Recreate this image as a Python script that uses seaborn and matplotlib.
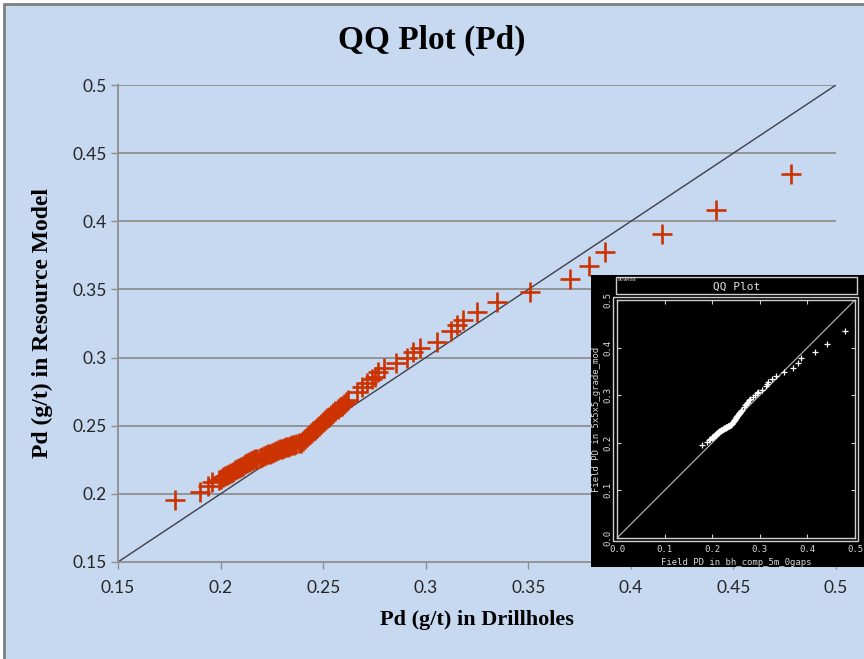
import matplotlib
matplotlib.use("Agg")
import matplotlib.pyplot as plt
from matplotlib.patches import Rectangle
import seaborn as sns
import pandas as pd

# Quantile pairs: Pd grade in drillholes (x) versus resource model (y), g/t
drillholes = [
    0.178, 0.190, 0.194, 0.196, 0.199,
    0.200, 0.201, 0.202, 0.203, 0.204, 0.205, 0.206, 0.207, 0.208, 0.209,
    0.210, 0.211, 0.212, 0.213, 0.214, 0.215, 0.216, 0.217, 0.218, 0.219,
    0.220, 0.221, 0.222, 0.223, 0.224, 0.225, 0.226, 0.227, 0.228, 0.229,
    0.230, 0.231, 0.232, 0.233, 0.234, 0.235, 0.236, 0.237, 0.238, 0.239,
    0.240, 0.241, 0.242, 0.243, 0.244, 0.245, 0.246, 0.247, 0.248, 0.249,
    0.250, 0.251, 0.252, 0.253, 0.254, 0.255, 0.256, 0.257, 0.258, 0.259,
    0.260, 0.261, 0.262,
    0.2665, 0.2689, 0.2714, 0.2738, 0.2753, 0.2767, 0.2797, 0.2855, 0.2909,
    0.2938, 0.2972, 0.3055, 0.3123, 0.3153, 0.3182, 0.3250, 0.3348, 0.3508,
    0.3703, 0.3796, 0.3874, 0.4152, 0.4415, 0.4781,
]
resource_model = [
    0.1955, 0.2014, 0.2058, 0.2087, 0.2102,
    0.2112, 0.2121, 0.2130, 0.2138, 0.2147, 0.2156, 0.2164, 0.2173, 0.2182, 0.2190,
    0.2199, 0.2208, 0.2216, 0.2225, 0.2234, 0.2241, 0.2247, 0.2253, 0.2259, 0.2265,
    0.2271, 0.2277, 0.2283, 0.2290, 0.2296, 0.2302, 0.2308, 0.2314, 0.2320, 0.2326,
    0.2332, 0.2338, 0.2342, 0.2347, 0.2352, 0.2356, 0.2361, 0.2365, 0.2370, 0.2376,
    0.2390, 0.2403, 0.2417, 0.2430, 0.2444, 0.2458, 0.2471, 0.2485, 0.2498, 0.2512,
    0.2526, 0.2540, 0.2553, 0.2567, 0.2580, 0.2594, 0.2608, 0.2621, 0.2635, 0.2648,
    0.2662, 0.2676, 0.2690,
    0.2747, 0.2784, 0.2813, 0.2843, 0.2857, 0.2894, 0.2923, 0.2960, 0.2997,
    0.3041, 0.3070, 0.3114, 0.3195, 0.3239, 0.3276, 0.3334, 0.3408, 0.3481,
    0.3577, 0.3672, 0.3775, 0.3907, 0.4083, 0.4347,
]
main_ticks = [0.15, 0.2, 0.25, 0.3, 0.35, 0.4, 0.45, 0.5]
main_tick_labels = ["0.15", "0.2", "0.25", "0.3", "0.35", "0.4", "0.45", "0.5"]
inset_ticks = [0.0, 0.1, 0.2, 0.3, 0.4, 0.5]
inset_tick_labels = ["0.0", "0.1", "0.2", "0.3", "0.4", "0.5"]

df = pd.DataFrame({"drill": drillholes, "model": resource_model})

BG = "#c6d9f1"
RED = "#cc3300"
GRID = "#8e8e8e"

sns.set_theme(style="white")
plt.rcParams["font.family"] = ["Lato", "DejaVu Sans"]

fig = plt.figure(figsize=(8.64, 6.59), dpi=100)
fig.patch.set_facecolor("white")
# chart-area panel with a grey frame, kept behind the axes
fig.patches.append(Rectangle((4 / 864, -0.05), 1.2, 1 - 4 / 659 + 0.05,
                             transform=fig.transFigure, facecolor=BG,
                             edgecolor="#7f7f7f", linewidth=2, zorder=-10))

ax = fig.add_axes([118 / 864, 1 - 562 / 659, 718 / 864, 477 / 659], zorder=1)
ax.set_facecolor(BG)
lo, hi = main_ticks[0], main_ticks[-1]
ax.set_xlim(lo, hi)
ax.set_ylim(lo, hi)

# horizontal gridlines
for t in main_ticks[1:]:
    ax.axhline(t, color=GRID, linewidth=1.3, zorder=1)

# y = x reference line
ax.plot([lo, hi], [lo, hi], color="#3f3f4a", linewidth=1.0, zorder=2)

sns.scatterplot(data=df, x="drill", y="model", ax=ax, marker="+", s=190,
                color=RED, linewidth=1.9, zorder=3)

ax.set_xticks(main_ticks)
ax.set_xticklabels(main_tick_labels)
ax.set_yticks(main_ticks)
ax.set_yticklabels(main_tick_labels)
ax.tick_params(axis="both", labelsize=12.5, colors="#8e8e8e", labelcolor="#262626",
               length=5, width=1, direction="out", bottom=True, left=True)
ax.tick_params(axis="x", pad=8)
ax.tick_params(axis="y", pad=3)
for side in ["top", "right"]:
    ax.spines[side].set_visible(False)
for side in ["left", "bottom"]:
    ax.spines[side].set_color(GRID)
    ax.spines[side].set_linewidth(1.3)

ax.set_xlabel("Pd (g/t) in Drillholes", family="Liberation Serif",
              fontweight="bold", fontsize=16, labelpad=10, color="black")
ax.set_ylabel("Pd (g/t) in Resource Model", family="Liberation Serif",
              fontweight="bold", fontsize=17, labelpad=14, color="black")
fig.text(0.5, 1 - 40 / 659, "QQ Plot (Pd)", family="Liberation Serif",
         fontweight="bold", fontsize=24, ha="center", va="center", color="black")

# ---- inset: the same QQ plot as rendered by the mining package ----
ins_bg = fig.add_axes([591 / 864, 1 - 567 / 659, 273 / 864, 292 / 659], zorder=5)
ins_bg.set_facecolor("black")
ins_bg.set_xticks([])
ins_bg.set_yticks([])
for s in ins_bg.spines.values():
    s.set_visible(False)

LG = "#cfcfcf"
MONO = "DejaVu Sans Mono"

# header box
fig.patches.append(Rectangle((616 / 864, 1 - 294 / 659), 241 / 864, 17 / 659,
                             transform=fig.transFigure, facecolor="black",
                             edgecolor=LG, linewidth=1.0, zorder=6))
fig.text(737 / 864, 1 - 286.5 / 659, "QQ Plot", family=MONO, fontsize=8,
         color="#e0e0e0", ha="center", va="center", zorder=7)
fig.text(618 / 864, 1 - 280 / 659, "DATAMINE", family=MONO, fontsize=2.8,
         color="#e0e0e0", ha="left", va="center", zorder=7)

# outer frame of the plotting box
fig.patches.append(Rectangle((613 / 864, 1 - 541 / 659), 245 / 864, 244 / 659,
                             transform=fig.transFigure, facecolor="none",
                             edgecolor=LG, linewidth=1.0, zorder=6))

ins = fig.add_axes([617 / 864, 1 - 538 / 659, 238 / 864, 238 / 659], zorder=7)
ins.set_facecolor("black")
ins.set_xlim(inset_ticks[0], inset_ticks[-1])
ins.set_ylim(inset_ticks[0], inset_ticks[-1])
ins.plot([inset_ticks[0], inset_ticks[-1]], [inset_ticks[0], inset_ticks[-1]],
         color="#bdbdbd", linewidth=0.8)
sns.scatterplot(data=df, x="drill", y="model", ax=ins, marker="+", s=16,
                color="white", linewidth=0.9, zorder=3)
ins.set_xticks(inset_ticks)
ins.set_xticklabels(inset_tick_labels)
ins.set_yticks(inset_ticks)
ins.set_yticklabels(inset_tick_labels, rotation=90, va="center")
ins.tick_params(axis="both", direction="in", length=3, width=0.8, colors=LG,
                labelsize=6.5, labelcolor="#d8d8d8", top=True, right=True,
                bottom=True, left=True, pad=5)
ins.tick_params(axis="y", pad=3)
for s in ins.spines.values():
    s.set_color(LG)
    s.set_linewidth(1.0)
ins.set_xlabel("Field PD in bh_comp_5m_0gaps", family=MONO, fontsize=6.5,
               color="#d8d8d8")
ins.set_ylabel("Field PD in 5x5x5_grade_mod", family=MONO, fontsize=6.5,
               color="#d8d8d8")
ins.xaxis.set_label_coords(0.5, -0.085)
ins.yaxis.set_label_coords(-0.068, 0.5)
for lab in ins.get_xticklabels() + ins.get_yticklabels():
    lab.set_family(MONO)

fig.savefig("out.png", dpi=100, facecolor=fig.get_facecolor())
